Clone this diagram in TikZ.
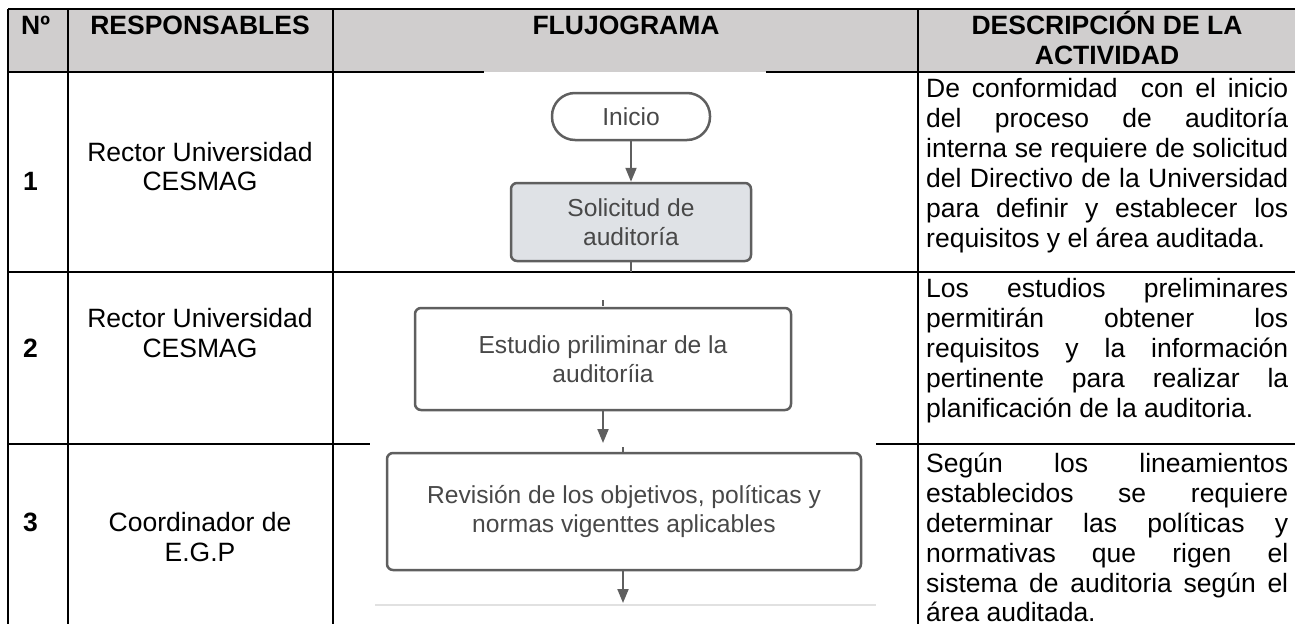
\documentclass[tikz,border=0pt]{standalone}
\usepackage{fontspec}
\setmainfont{Liberation Sans}
\usetikzlibrary{arrows.meta}
\definecolor{headgray}{RGB}{208,206,206}
\definecolor{boxfill}{RGB}{223,226,230}
\definecolor{flowgray}{RGB}{95,95,95}
\definecolor{flowtext}{RGB}{72,72,72}
\definecolor{thingray}{RGB}{225,225,225}
\newcommand\jl[1]{\hbox to 362pt{\spaceskip=0.278em plus 1fil\relax #1}}
\begin{document}
\begin{tikzpicture}[x=1pt,y=-1pt,
  tline/.style={line width=2.5pt,black},
  cell/.style={font=\fontsize{26.5}{30}\selectfont, inner sep=0pt, anchor=base},
  hcell/.style={cell, font=\fontsize{26.5}{30}\selectfont\bfseries},
  desc/.style={cell, anchor=base west},
  fbox/.style={draw=flowgray, line width=2.5pt, rounded corners=6pt, fill=white,
    inner sep=0pt, align=center, text=flowtext, font=\fontsize{24.6}{29}\selectfont},
  arr/.style={draw=flowgray, line width=2pt, -{Triangle[length=14pt,width=11pt]}},
  conn/.style={draw=flowgray, line width=2pt},
  tick/.style={draw=flowgray, line width=1.5pt},
]
\useasboundingbox (0,0) rectangle (1295,624);
% header background
\fill[headgray] (8,9) rectangle (1295,72);
% table rules
\draw[tline] (8,9) -- (1295,9);
\draw[tline] (8,72) -- (484,72);
\draw[tline] (766,72) -- (1295,72);
\draw[tline] (8,272) -- (1295,272);
\draw[tline] (8,444) -- (370,444);
\draw[tline] (876,444) -- (1295,444);
\foreach \x in {8,68,333,918} \draw[tline] (\x,9) -- (\x,624);
% thin grey edge of the flowchart picture
\draw[thingray, line width=1.5pt] (375,605) -- (876,605);

% header
\node[hcell, anchor=base west] (hn) at (21,34) {Nº};
\node[hcell] (hr) at (200,34) {RESPONSABLES};
\node[hcell] (hf) at (626,34) {FLUJOGRAMA};
\node[hcell] (hd1) at (1107,34) {DESCRIPCIÓN DE LA};
\node[hcell] (hd2) at (1107,64) {ACTIVIDAD};

% numbers
\node[hcell, anchor=base west] (n1) at (23,190) {1};
\node[hcell, anchor=base west] (n2) at (23,357) {2};
\node[hcell, anchor=base west] (n3) at (23,531) {3};

% responsables
\node[cell] (r1a) at (200,161) {Rector Universidad};
\node[cell] (r1b) at (200,190) {CESMAG};
\node[cell] (r2a) at (200,327) {Rector Universidad};
\node[cell] (r2b) at (200,357) {CESMAG};
\node[cell] (r3a) at (200,531) {Coordinador de};
\node[cell] (r3b) at (200,561) {E.G.P};

% descriptions
\node[desc] (d1a) at (926,97) {\jl{De conformidad\ \ con el inicio}};
\node[desc] (d1b) at (926,127) {\jl{del proceso de auditoría}};
\node[desc] (d1c) at (926,157) {\jl{interna se requiere de solicitud}};
\node[desc] (d1d) at (926,187) {\jl{del Directivo de la Universidad}};
\node[desc] (d1e) at (926,217) {\jl{para definir y establecer los}};
\node[desc] (d1f) at (926,247) {requisitos y el área auditada.};

\node[desc] (d2a) at (926,297) {\jl{Los estudios preliminares}};
\node[desc] (d2b) at (926,327) {\jl{permitirán obtener los}};
\node[desc] (d2c) at (926,357) {\jl{requisitos y la información}};
\node[desc] (d2d) at (926,387) {\jl{pertinente para realizar la}};
\node[desc] (d2e) at (926,417) {planificación de la auditoria.};

\node[desc] (d3a) at (926,472) {\jl{Según los lineamientos}};
\node[desc] (d3b) at (926,502) {\jl{establecidos se requiere}};
\node[desc] (d3c) at (926,532) {\jl{determinar las políticas y}};
\node[desc] (d3d) at (926,562) {\jl{normativas que rigen el}};
\node[desc] (d3e) at (926,592) {\jl{sistema de auditoria según el}};
\node[desc] (d3f) at (926,621) {área auditada.};

% flowchart
\node[fbox, rounded corners=23pt, minimum width=158pt, minimum height=47pt] (ini) at (631,116.5) {Inicio};
\node[fbox, fill=boxfill, minimum width=240pt, minimum height=78pt] (sol) at (631,222) {Solicitud de\\auditoría};
\draw[arr] (ini) -- (sol);
\coordinate (c1) at (631,272);
\draw[conn] (sol) -- (c1);

\node[fbox, minimum width=376pt, minimum height=102pt] (est) at (603,359) {Estudio priliminar de la\\auditoríia};
\coordinate (t1a) at (603,300);
\coordinate (t1b) at (603,306);
\draw[tick] (t1a) -- (t1b);
\coordinate (a2) at (603,443);
\draw[arr] (est) -- (a2);
\coordinate (t2a) at (623,447);
\coordinate (t2b) at (623,452);
\draw[tick] (t2a) -- (t2b);

\node[fbox, minimum width=474pt, minimum height=117pt] (rev) at (624,511.5) {Revisión de los objetivos, políticas y\\normas vigenttes aplicables};
\coordinate (a3) at (623,603);
\draw[arr] (rev.south -| a3) -- (a3);
\end{tikzpicture}
\end{document}
